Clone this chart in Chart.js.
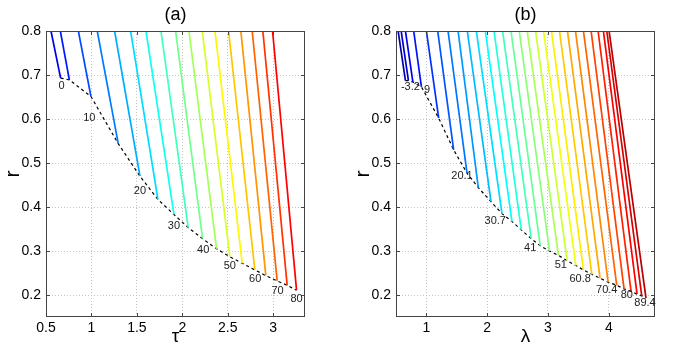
<!DOCTYPE html>
<html>
<head>
<meta charset="utf-8">
<script src="https://cdn.jsdelivr.net/npm/chart.js@4.4.1/dist/chart.umd.min.js"></script>
<style>
  body { margin: 0; background: #fff; }
  .wrap { position: relative; width: 700px; height: 352px; }
  canvas { position: absolute; top: 0; }
</style>
</head>
<body>
<div class="wrap">
  <canvas id="chartA" width="350" height="352" style="left:0"></canvas>
  <canvas id="chartB" width="350" height="352" style="left:350px"></canvas>
</div>
<script>
// ---- panel (a): r against tau ----
var topXa    = [0.555, 0.658, 0.856, 1.064, 1.255, 1.431, 1.600, 1.765, 1.926, 2.073, 2.219, 2.359, 2.509, 2.644, 2.769, 2.886, 2.993];
var bottomXa = [0.661, 0.757, 0.995, 1.295, 1.534, 1.732, 1.908, 2.065, 2.223, 2.377, 2.523, 2.659, 2.798, 2.919, 3.044, 3.154, 3.257];
var bottomYa = [0.693, 0.689, 0.651, 0.544, 0.470, 0.417, 0.383, 0.353, 0.328, 0.305, 0.287, 0.272, 0.257, 0.244, 0.232, 0.222, 0.211];
var levelsA  = ['0', '10', '20', '30', '40', '50', '60', '70', '80'];
var labelXa  = [0.672, 0.977, 1.534, 1.908, 2.230, 2.523, 2.802, 3.048, 3.257];
var labelYa  = [0.675, 0.602, 0.436, 0.356, 0.302, 0.266, 0.237, 0.210, 0.190];
var xTicksA  = [0.5, 1, 1.5, 2, 2.5, 3];

// ---- panel (b): r against lambda ----
var topXb    = [0.535, 0.585, 0.655, 0.791, 1.000, 1.186, 1.356, 1.521, 1.673, 1.821, 1.969, 2.112, 2.253, 2.391,
                2.527, 2.658, 2.795, 2.926, 3.057, 3.189, 3.320, 3.452, 3.583, 3.709, 3.824, 3.911, 3.967, 4.005];
var bottomXb = [0.655, 0.704, 0.778, 0.918, 1.202, 1.448, 1.668, 1.854, 2.062, 2.243, 2.407, 2.560, 2.724, 2.872,
                3.025, 3.172, 3.315, 3.458, 3.583, 3.721, 3.857, 3.989, 4.131, 4.251, 4.366, 4.465, 4.542, 4.612];
var bottomYb = [0.687, 0.687, 0.684, 0.673, 0.602, 0.530, 0.477, 0.444, 0.412, 0.385, 0.367, 0.348, 0.328, 0.312,
                0.300, 0.290, 0.278, 0.267, 0.257, 0.247, 0.238, 0.229, 0.222, 0.214, 0.208, 0.202, 0.198, 0.193];
var levelsB  = ['-3.2', '9', '20.1', '30.7', '41', '51', '60.8', '70.4', '80', '89.4'];
var labelXb  = [0.737, 1.011, 1.586, 2.133, 2.708, 3.211, 3.529, 3.967, 4.296, 4.596];
var labelYb  = [0.673, 0.666, 0.470, 0.368, 0.307, 0.269, 0.237, 0.211, 0.199, 0.181];
var xTicksB  = [1, 2, 3, 4];

var yTicks = [0.2, 0.3, 0.4, 0.5, 0.6, 0.7, 0.8];
var rTop = 0.8;

// jet colormap
function jet(t) {
    var r = Math.min(Math.max(Math.min(4 * t - 1.5, -4 * t + 4.5), 0), 1);
    var g = Math.min(Math.max(Math.min(4 * t - 0.5, -4 * t + 3.5), 0), 1);
    var b = Math.min(Math.max(Math.min(4 * t + 0.5, -4 * t + 2.5), 0), 1);
    return 'rgb(' + Math.round(r * 255) + ',' + Math.round(g * 255) + ',' + Math.round(b * 255) + ')';
}

function buildDatasets(topX, botX, botY, t0, dt) {
    var sets = [];
    for (var i = 0; i < topX.length; i++) {
        sets.push({
            data: [{x: topX[i], y: rTop}, {x: botX[i], y: botY[i]}],
            borderColor: jet(t0 + dt * i),
            borderWidth: 1.7
        });
    }
    // dashed boundary through the line ends
    var edge = [];
    for (var j = 0; j < botX.length; j++) edge.push({x: botX[j], y: botY[j]});
    sets.push({ data: edge, borderColor: '#000', borderWidth: 1.2, borderDash: [3, 3] });
    return sets;
}

// box, inward ticks, contour labels and panel title
var framePlugin = {
    id: 'frame',
    afterDatasetsDraw: function(chart, args, opts) {
        var ctx = chart.ctx, a = chart.chartArea;
        var xs = chart.scales.x, ys = chart.scales.y;
        ctx.save();
        ctx.strokeStyle = '#444';
        ctx.lineWidth = 1;
        ctx.strokeRect(a.left + 0.5, a.top + 0.5, a.right - a.left - 1, a.bottom - a.top - 1);
        ctx.beginPath();
        opts.xTicks.forEach(function(v) {
            var px = Math.round(xs.getPixelForValue(v)) + 0.5;
            ctx.moveTo(px, a.bottom); ctx.lineTo(px, a.bottom - 4);
            ctx.moveTo(px, a.top); ctx.lineTo(px, a.top + 4);
        });
        yTicks.forEach(function(v) {
            var py = Math.round(ys.getPixelForValue(v)) + 0.5;
            ctx.moveTo(a.left, py); ctx.lineTo(a.left + 4, py);
            ctx.moveTo(a.right, py); ctx.lineTo(a.right - 4, py);
        });
        ctx.stroke();

        ctx.fillStyle = '#222';
        ctx.font = '11px "Liberation Sans", Arial, sans-serif';
        ctx.textAlign = 'center';
        ctx.textBaseline = 'middle';
        opts.labels.forEach(function(txt, i) {
            ctx.fillText(txt, xs.getPixelForValue(opts.lx[i]), ys.getPixelForValue(opts.ly[i]));
        });

        ctx.fillStyle = '#000';
        ctx.font = '18px "Liberation Sans", Arial, sans-serif';
        ctx.fillText(opts.title, (a.left + a.right) / 2, 15);
        ctx.restore();
    }
};

function makeConfig(sets, xMin, xMax, xTicks, xTitle, title, labels, lx, ly) {
    return {
        type: 'scatter',
        data: { datasets: sets },
        options: {
            responsive: false,
            animation: false,
            devicePixelRatio: 1,
            showLine: true,
            elements: { point: { radius: 0 }, line: { tension: 0, fill: false } },
            layout: { padding: { top: 31, right: 45, left: 0, bottom: 0 } },
            plugins: {
                legend: { display: false },
                tooltip: { enabled: false },
                frame: { title: title, labels: labels, lx: lx, ly: ly, xTicks: xTicks }
            },
            scales: {
                x: {
                    type: 'linear', min: xMin, max: xMax,
                    afterBuildTicks: function(s) { s.ticks = xTicks.map(function(v) { return {value: v}; }); },
                    afterFit: function(s) { s.height = 35; },
                    ticks: { padding: 3, color: '#000', maxRotation: 0, autoSkip: false,
                             font: { family: 'Liberation Sans', size: 14 },
                             callback: function(v) { return String(v); } },
                    grid: { color: '#c4c4c4', drawTicks: false },
                    border: { display: false, dash: [1, 2] },
                    title: { display: true, text: xTitle, color: '#000',
                             font: { family: 'Liberation Sans', size: 19 }, padding: { top: 0, bottom: 4 } }
                },
                y: {
                    type: 'linear', min: 0.15, max: 0.8,
                    afterBuildTicks: function(s) { s.ticks = yTicks.map(function(v) { return {value: v}; }); },
                    afterFit: function(s) { s.width = 46; },
                    ticks: { padding: 5, color: '#000',
                             font: { family: 'Liberation Sans', size: 14 },
                             callback: function(v) { return String(v); } },
                    grid: { color: '#c4c4c4', drawTicks: false },
                    border: { display: false, dash: [1, 2] },
                    title: { display: true, text: 'r', color: '#000',
                             font: { family: 'Liberation Sans', size: 21 }, padding: { top: 1, bottom: 0 } }
                }
            }
        },
        plugins: [framePlugin]
    };
}

window.chartA = new Chart(document.getElementById('chartA').getContext('2d'),
    makeConfig(buildDatasets(topXa, bottomXa, bottomYa, 0.1, 0.0484), 0.5, 3.35, xTicksA, 'τ', '(a)', levelsA, labelXa, labelYa));
window.chartB = new Chart(document.getElementById('chartB').getContext('2d'),
    makeConfig(buildDatasets(topXb, bottomXb, bottomYb, 0.04, 0.0335), 0.5, 4.76, xTicksB, 'λ', '(b)', levelsB, labelXb, labelYb));
</script>
</body>
</html>
